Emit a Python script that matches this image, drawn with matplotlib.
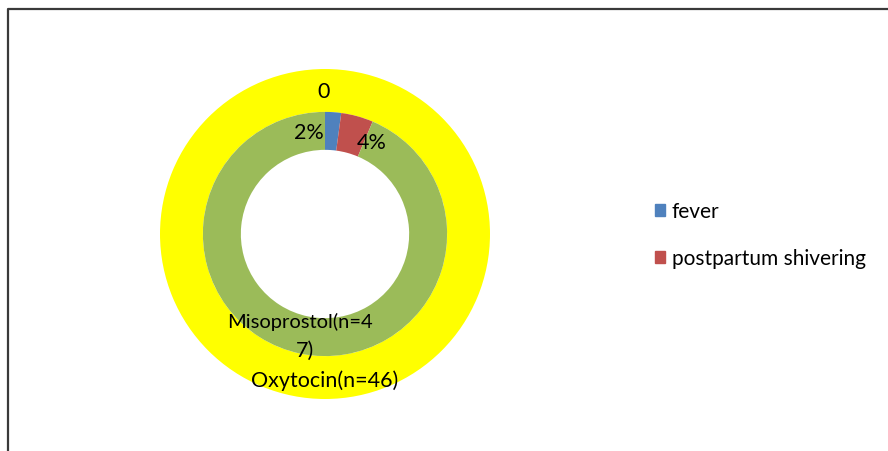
import matplotlib.pyplot as plt
from matplotlib.patches import Patch
from matplotlib.lines import Line2D

# outer ring: Oxytocin, inner ring: Misoprostol
categories = ['fever', 'postpartum shivering', 'none']
oxytocin = [0, 0, 46]
misoprostol = [1, 2, 44]
inner_labels = ['2%', '4%']

blue = '#4F81BD'
red = '#C0504D'
green = '#9BBB59'
yellow = '#FFFF00'

plt.rcParams['font.family'] = ['Lato', 'DejaVu Sans']

fig = plt.figure(figsize=(8.88, 4.52), dpi=100)
ax = fig.add_axes([160 / 888, 52 / 452, 330 / 888, 330 / 452])

ax.pie(oxytocin, radius=1.0, colors=[blue, red, yellow], startangle=90,
       counterclock=False, wedgeprops=dict(width=0.26, linewidth=0))
ax.pie(misoprostol, radius=0.74, colors=[blue, red, green], startangle=90,
       counterclock=False, wedgeprops=dict(width=0.23, linewidth=0))
ax.set_xlim(-1, 1)
ax.set_ylim(-1, 1)
ax.set_aspect('equal')
ax.axis('off')

fs = 15.5
ax.text(-0.01, 0.865, str(oxytocin[0]), ha='center', va='center', fontsize=fs)
ax.text(-0.10, 0.62, inner_labels[0], ha='center', va='center', fontsize=fs)
ax.text(0.285, 0.56, inner_labels[1], ha='center', va='center', fontsize=fs)
ax.text(-0.15, -0.53, 'Misoprostol(n=4', ha='center', va='center', fontsize=14.5)
ax.text(-0.12, -0.70, '7)', ha='center', va='center', fontsize=fs)
ax.text(0.0, -0.885, 'Oxytocin(n=%d)' % sum(oxytocin), ha='center', va='center', fontsize=fs)

handles = [Patch(color=blue), Patch(color=red)]
fig.legend(handles, categories[:2], loc='upper left', bbox_to_anchor=(655 / 888, 1 - 202 / 452),
           frameon=False, fontsize=15, handlelength=0.5, handleheight=0.5,
           handletextpad=0.3, labelspacing=1.32, borderaxespad=0, borderpad=0)

# chart frame (only left and top edges visible)
fig.add_artist(Line2D([8 / 888, 8 / 888, 1], [0, 1 - 10 / 452, 1 - 10 / 452],
                      transform=fig.transFigure, color='#3a3a3a', lw=1.6))

fig.savefig('out.png', dpi=100)
